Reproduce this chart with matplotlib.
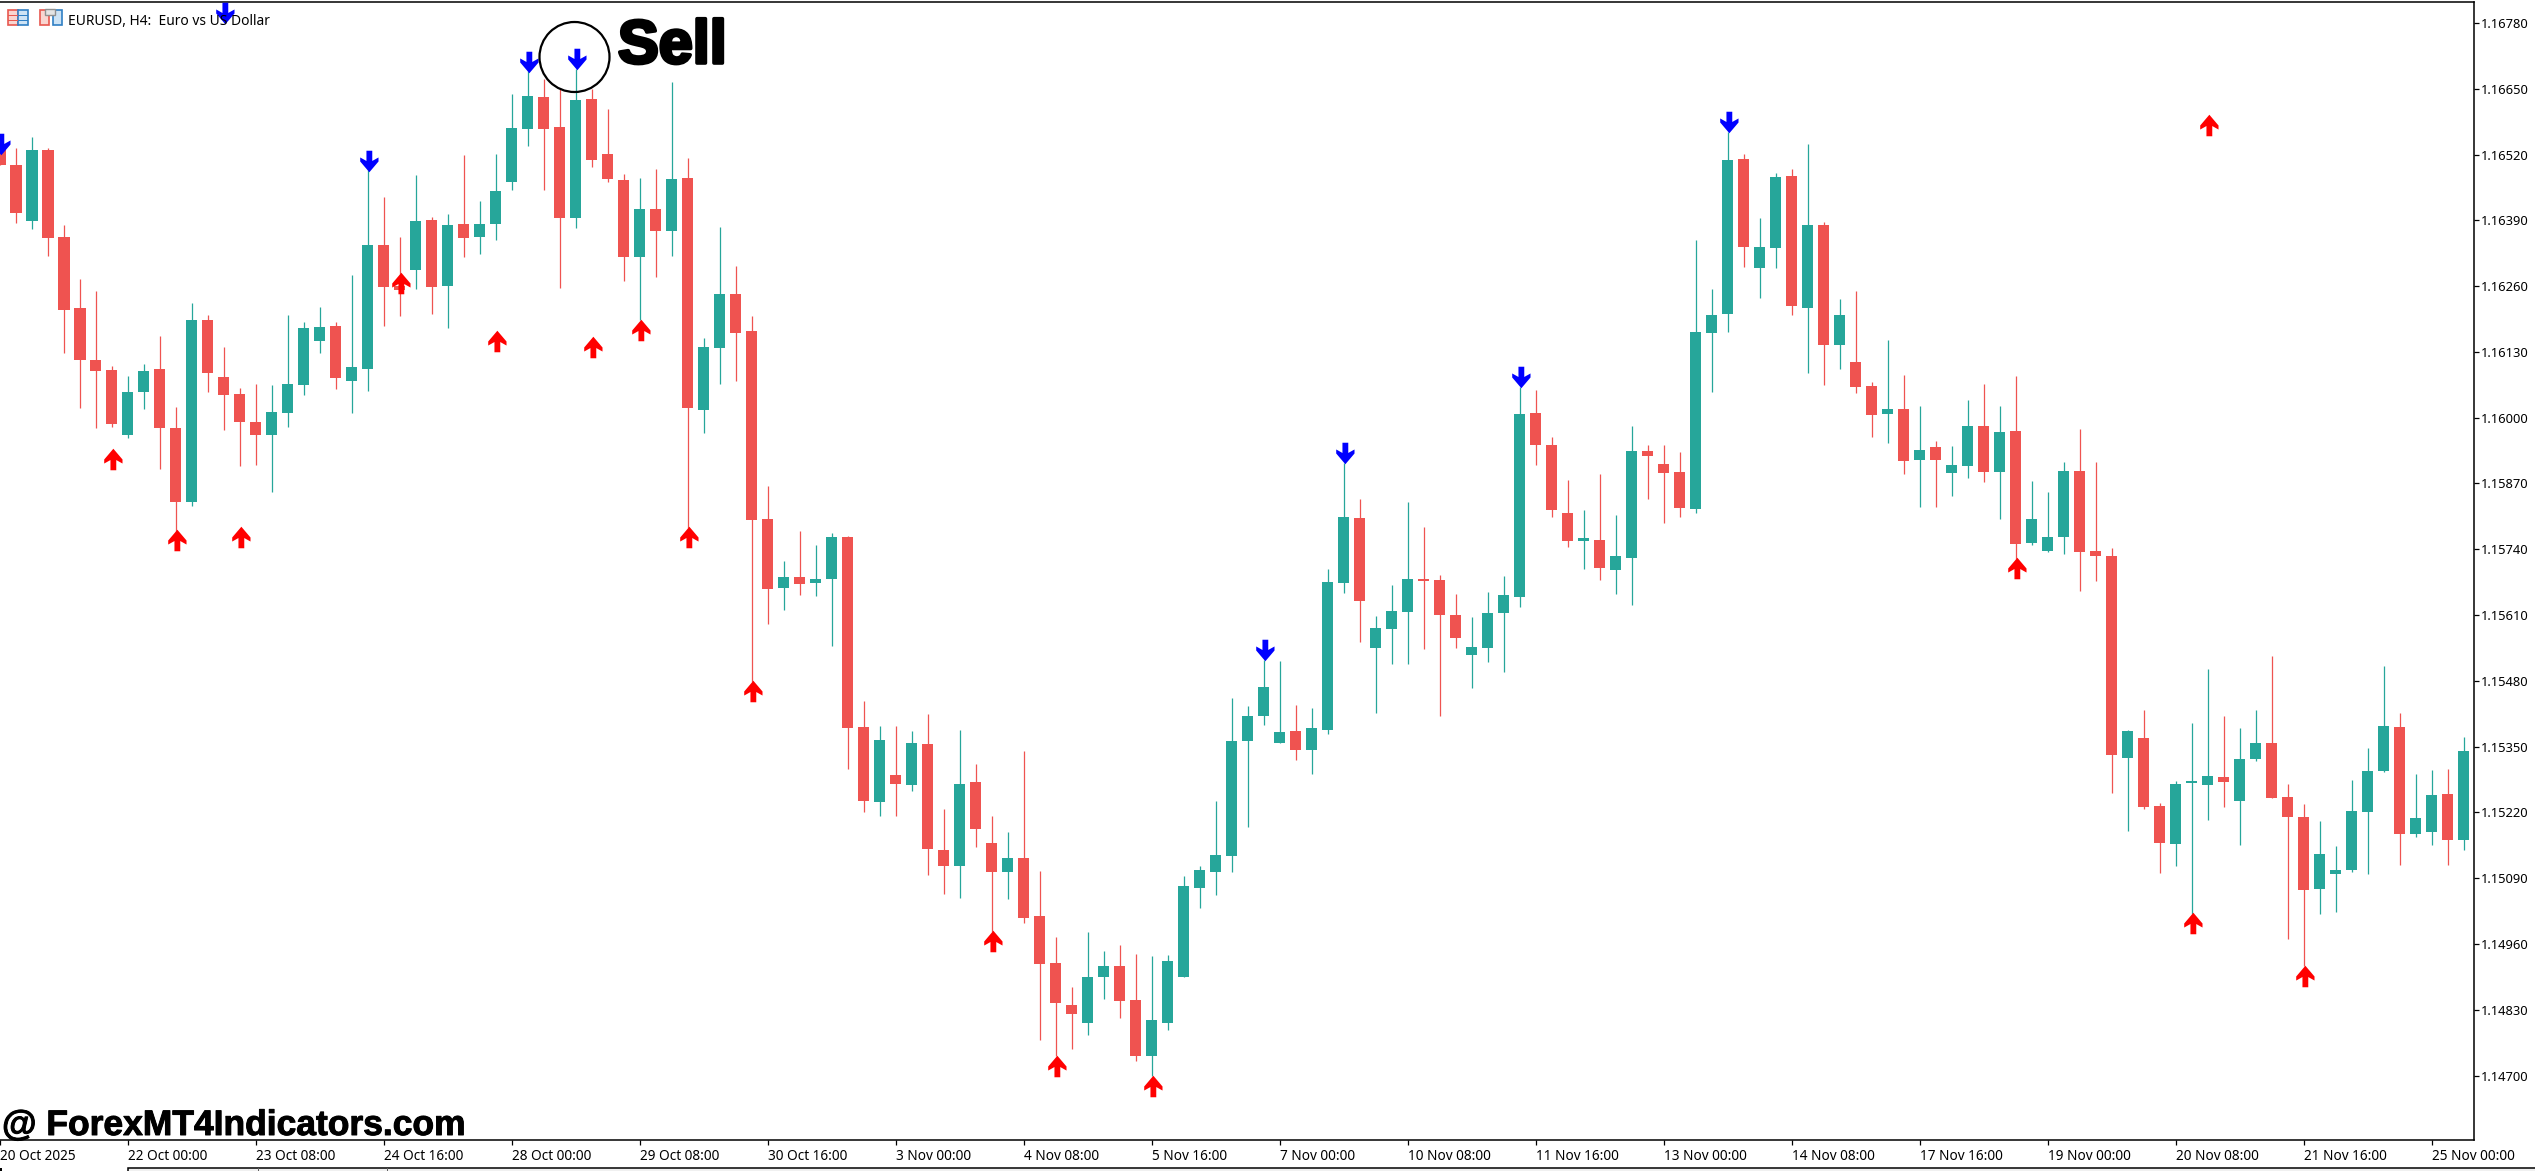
import numpy as np
import matplotlib
matplotlib.use('Agg')
import matplotlib.pyplot as plt
import matplotlib.patheffects as pe
from matplotlib.patches import Ellipse, Rectangle
from matplotlib.path import Path

W, H = 2535, 1171

# EURUSD H4 candles, prices in 1e-5 units
opens = [
    116539, 116500, 116389, 116530, 116357, 116217, 116114, 116094, 115966, 116050,
    116096, 115979, 115834, 116193, 116081, 116047, 115991, 115965, 116010, 116065,
    116152, 116181, 116073, 116097, 116341, 116260, 116291, 116391, 116261, 116383,
    116358, 116383, 116466, 116571, 116634, 116574, 116394, 116630, 116521, 116470,
    116317, 116413, 116369, 116474, 116016, 116137, 116245, 116171, 115800, 115663,
    115685, 115673, 115681, 115765, 115389, 115240, 115294, 115274, 115356, 115146,
    115115, 115280, 115159, 115103, 115130, 115016, 114923, 114840, 114804, 114895,
    114917, 114850, 114739, 114804, 114895, 115071, 115103, 115134, 115361, 115410,
    115357, 115381, 115344, 115383, 115673, 115802, 115545, 115583, 115616, 115681,
    115679, 115610, 115531, 115545, 115614, 115646, 116009, 115946, 115812, 115757,
    115758, 115699, 115723, 115934, 115909, 115893, 115819, 116168, 116204, 116511,
    116296, 116336, 116477, 116216, 116381, 116144, 116110, 116063, 116007, 116017,
    115916, 115942, 115891, 115905, 115984, 115893, 115974, 115752, 115736, 115764,
    115894, 115736, 115727, 115328, 115367, 115233, 115158, 115279, 115275, 115290,
    115242, 115325, 115358, 115250, 115211, 115069, 115098, 115106, 115221, 115302,
    115389, 115178, 115181, 115257, 115166,
]
highs = [
    116545, 116532, 116555, 116533, 116381, 116275, 116251, 116103, 116082, 116107,
    116161, 116022, 116226, 116202, 116140, 116059, 116066, 116065, 116203, 116189,
    116219, 116190, 116282, 116489, 116436, 116357, 116480, 116397, 116403, 116519,
    116428, 116521, 116639, 116686, 116670, 116652, 116689, 116650, 116610, 116481,
    116474, 116491, 116664, 116513, 116158, 116377, 116300, 116201, 115865, 115717,
    115777, 115749, 115772, 115766, 115440, 115391, 115391, 115381, 115415, 115227,
    115383, 115316, 115213, 115181, 115341, 115104, 114974, 114875, 114983, 114947,
    114958, 114940, 114936, 114939, 115094, 115115, 115243, 115446, 115431, 115522,
    115520, 115432, 115427, 115701, 115911, 115839, 115608, 115669, 115833, 115784,
    115689, 115651, 115607, 115656, 115687, 116061, 116055, 115962, 115877, 115818,
    115889, 115807, 115984, 115946, 115946, 115932, 116351, 116254, 116564, 116521,
    116395, 116483, 116492, 116541, 116387, 116235, 116250, 116070, 116154, 116084,
    116023, 115954, 115944, 116035, 116067, 116023, 116083, 115875, 115854, 115912,
    115977, 115912, 115742, 115383, 115422, 115239, 115282, 115397, 115504, 115411,
    115387, 115422, 115529, 115276, 115237, 115203, 115154, 115284, 115347, 115509,
    115416, 115296, 115304, 115306, 115369,
]
lows = [
    116499, 116385, 116372, 116320, 116128, 116020, 115979, 115982, 115959, 116018,
    115899, 115774, 115826, 116050, 115976, 115905, 115907, 115854, 115982, 116044,
    116128, 116057, 116010, 116053, 116182, 116200, 116255, 116205, 116178, 116317,
    116324, 116352, 116450, 116537, 116450, 116257, 116374, 116496, 116465, 116271,
    116194, 116279, 116320, 115782, 115969, 116067, 116073, 115478, 115592, 115620,
    115650, 115648, 115549, 115306, 115221, 115213, 115213, 115262, 115097, 115059,
    115051, 115152, 114983, 115049, 115002, 114770, 114738, 114753, 114781, 114852,
    114814, 114729, 114699, 114790, 114895, 115032, 115057, 115103, 115191, 115393,
    115357, 115323, 115296, 115375, 115654, 115557, 115416, 115514, 115514, 115543,
    115410, 115545, 115466, 115517, 115497, 115626, 115907, 115803, 115745, 115701,
    115680, 115652, 115630, 115839, 115792, 115804, 115812, 116051, 116170, 116298,
    116237, 116296, 116203, 116089, 116064, 116096, 116049, 115962, 115950, 115889,
    115823, 115823, 115845, 115881, 115873, 115800, 115720, 115748, 115735, 115731,
    115658, 115677, 115258, 115183, 115226, 115100, 115114, 115019, 115205, 115231,
    115156, 115322, 115249, 114970, 114917, 115019, 115023, 115102, 115098, 115300,
    115116, 115171, 115156, 115116, 115146,
]
closes = [
    116499, 116405, 116530, 116356, 116213, 116115, 116092, 115988, 116051, 116092,
    115980, 115834, 116193, 116089, 116045, 115992, 115966, 116011, 116066, 116177,
    116179, 116078, 116100, 116341, 116259, 116252, 116388, 116259, 116381, 116356,
    116383, 116448, 116572, 116636, 116571, 116394, 116628, 116510, 116471, 116317,
    116413, 116369, 116472, 116020, 116140, 116245, 116168, 115797, 115662, 115685,
    115672, 115681, 115765, 115387, 115243, 115363, 115276, 115357, 115147, 115115,
    115276, 115187, 115103, 115130, 115011, 114921, 114844, 114822, 114895, 114917,
    114847, 114739, 114810, 114927, 115075, 115106, 115136, 115361, 115410, 115468,
    115379, 115344, 115387, 115675, 115804, 115638, 115585, 115618, 115681, 115678,
    115610, 115565, 115547, 115614, 115649, 116007, 115946, 115818, 115757, 115762,
    115703, 115726, 115934, 115925, 115891, 115822, 116170, 116203, 116509, 116337,
    116337, 116476, 116221, 116381, 116144, 116203, 116061, 116005, 116017, 115915,
    115936, 115916, 115906, 115984, 115893, 115971, 115751, 115800, 115764, 115894,
    115735, 115726, 115333, 115381, 115231, 115160, 115276, 115282, 115292, 115280,
    115325, 115358, 115249, 115211, 115067, 115138, 115106, 115223, 115302, 115391,
    115178, 115209, 115254, 115166, 115341,
]

# signal arrows: bar index and price of the arrow centre
sell_bars = [0, 14, 23, 33, 36, 79, 84, 95, 108]
sell_prices = [116541, 116799, 116508, 116702, 116708, 115541, 115931, 116080, 116584]
buy_bars = [7, 11, 15, 25, 31, 37, 40, 43, 47, 62, 66, 72, 126, 137, 138, 144]
buy_prices = [115918, 115758, 115764, 116267, 116151, 116139, 116174, 115764, 115459,
              114965, 114718, 114679, 115702, 115002, 116579, 114897]

time_labels = ['20 Oct 2025', '22 Oct 00:00', '23 Oct 08:00', '24 Oct 16:00', '28 Oct 00:00',
               '29 Oct 08:00', '30 Oct 16:00', '3 Nov 00:00', '4 Nov 08:00', '5 Nov 16:00',
               '7 Nov 00:00', '10 Nov 08:00', '11 Nov 16:00', '13 Nov 00:00', '14 Nov 08:00',
               '17 Nov 16:00', '19 Nov 00:00', '20 Nov 08:00', '21 Nov 16:00', '25 Nov 00:00']
price_ticks = [1.14700, 1.14830, 1.14960, 1.15090, 1.15220, 1.15350, 1.15480, 1.15610, 1.15740,
               1.15870, 1.16000, 1.16130, 1.16260, 1.16390, 1.16520, 1.16650, 1.16780]

GREEN = '#26A69A'
RED = '#EF5350'
FONT = 'Noto Sans'


def fx(px):
    return px / W


def fy(px):
    return 1 - px / H


o = np.array(opens) / 1e5
h = np.array(highs) / 1e5
l = np.array(lows) / 1e5
c = np.array(closes) / 1e5
bars = np.arange(len(o))
colors = [GREEN if c[i] >= o[i] else RED for i in bars]

fig = plt.figure(figsize=(W / 100, H / 100), dpi=100, facecolor='white')
ax = fig.add_axes([0, fy(1140.3), fx(2474), fy(2) - fy(1140.3)])

ax.vlines(bars, l, h, colors=colors, linewidth=0.9, zorder=2)
bodies = np.maximum(np.abs(c - o), 0.00004)
ax.bar(bars, bodies, bottom=np.minimum(o, c), width=0.69, color=colors, linewidth=0, zorder=3)

# arrow marker, a bit right of the candle like the indicator draws it
up_verts = [(0, 1), (0.85, 0.0), (0.85, -0.375), (0.27, -0.05), (0.27, -1), (-0.27, -1),
            (-0.27, -0.05), (-0.85, -0.375), (-0.85, 0.0), (0, 1)]
up_arrow = Path([(x + 0.08, y) for x, y in up_verts], closed=True)
down_arrow = Path([(x + 0.08, -y) for x, y in up_verts], closed=True)
ax.plot(buy_bars, np.array(buy_prices) / 1e5, ls='none', marker=up_arrow, ms=15.5,
        color='#FF0000', mew=0, zorder=5, clip_on=False)
ax.plot(sell_bars, np.array(sell_prices) / 1e5, ls='none', marker=down_arrow, ms=15.5,
        color='#0000FF', mew=0, zorder=5, clip_on=True)

ax.set_xlim(0.5 / 16, 2474.5 / 16)
ax.set_ylim(1.14572, 1.168215)

ax.set_xticks(np.arange(len(time_labels)) * 8)
ax.set_xticklabels(time_labels, ha='left', fontsize=9.8, family=FONT, color='black')
ax.tick_params(axis='x', length=3.5, width=0.9, pad=3)
ax.yaxis.tick_right()
ax.set_yticks(price_ticks)
ax.set_yticklabels([f'{p:.5f}' for p in price_ticks], fontsize=9.3, family=FONT, color='black')
ax.tick_params(axis='y', length=3.5, width=0.9, pad=1.5)
ax.spines['left'].set_visible(False)
for s in ['top', 'right', 'bottom']:
    ax.spines[s].set_linewidth(1.1)

# header
fig.text(fx(68), fy(25), 'EURUSD, H4:  Euro vs US Dollar', fontsize=9.9, family=FONT, color='black',
         zorder=4)


def box(x0, y0, x1, y1, face, edge='none', lw=0.0, zorder=6):
    fig.add_artist(Rectangle((fx(x0), fy(y1)), fx(x1 - x0), fy(y0) - fy(y1), transform=fig.transFigure,
                             facecolor=face, edgecolor=edge, linewidth=lw, zorder=zorder))


# toolbar icons
box(7.5, 10.5, 18, 25, '#F9D5D0', '#E8584F', 1.2)
box(18, 10.5, 28, 25, '#CDE3F5', '#2F7FC4', 1.2)
for yy in [15, 20]:
    box(8, yy, 18, yy + 1.2, '#E8584F')
    box(18, yy, 28, yy + 1.2, '#2F7FC4')
box(39.5, 10.5, 49, 25, '#F9D5D0', '#E8584F', 1.2)
box(53, 10.5, 61.5, 25, '#CDE3F5', '#2F7FC4', 1.2)
box(45, 9.5, 55, 15, '#E4E4E4', '#909090', 1.0, zorder=7)

# annotation circle and labels
fig.add_artist(Ellipse((fx(574.5), fy(57)), 70 / W, 70 / H, transform=fig.transFigure, fill=False,
                       edgecolor='black', linewidth=1.6, zorder=6))
fig.text(fx(618), fy(63), 'Sell', fontsize=44, family='Liberation Sans', weight='bold', color='black',
         path_effects=[pe.withStroke(linewidth=2.6, foreground='black')], zorder=6)
fig.text(fx(2), fy(1135), '@ ForexMT4Indicators.com', fontsize=25.5, family='Liberation Sans',
         weight='bold', color='black', path_effects=[pe.withStroke(linewidth=0.7, foreground='black')],
         zorder=6)

# tab strip along the bottom edge
box(128, 1167.5, W + 2, H + 2, '#F0F0F0', 'black', 1.1, zorder=1)
for xx in [258, 387]:
    box(xx - 0.5, 1168, xx + 0.5, 1171, '#606060', zorder=2)
box(0, 1167.5, 2, 1171, 'black', zorder=2)

fig.savefig('out.png', dpi=100)
